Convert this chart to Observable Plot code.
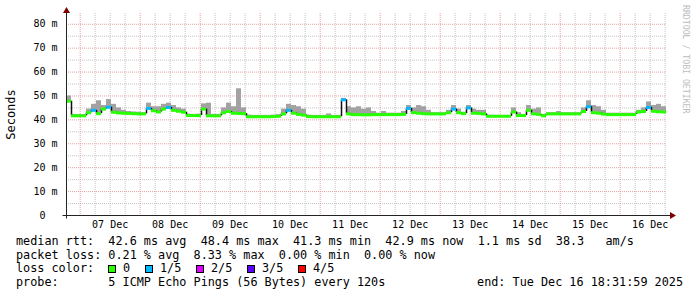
<!DOCTYPE html>
<html><head><meta charset="utf-8">
<script src="https://cdn.jsdelivr.net/npm/d3@7"></script>
<script src="https://cdn.jsdelivr.net/npm/@observablehq/plot@0.6"></script>
<style>
body{margin:0;background:#fff;}
#wrap{position:relative;width:697px;height:297px;overflow:hidden;background:#fff;}
svg{display:block;}
</style></head><body><div id="wrap"></div>
<script>
// ---- data ----
const startTime = "2025-12-06T18:32:00Z";
const endTime = "2025-12-16T18:31:59Z";
const binHours = 2;
// median rtt per 2-hour bin (ms)
const median = [
47.8,41.7,41.7,41.7,43.0,44.0,42.6,44.5,45.3,43.2,
42.9,42.8,42.7,42.6,42.5,42.5,44.8,43.8,43.3,44.5,
45.2,44.0,43.6,43.2,41.8,41.8,41.8,44.5,41.7,41.7,
41.7,43.0,43.5,42.8,42.7,42.6,41.3,41.3,41.3,41.3,
41.3,41.4,41.5,42.5,44.0,42.8,42.3,42.0,41.4,41.3,
41.3,41.3,41.3,41.3,41.3,48.4,42.5,42.2,42.2,42.1,
42.1,42.2,42.2,42.2,42.2,42.2,42.2,42.3,44.8,43.0,
42.8,42.6,42.5,42.5,42.5,42.5,43.0,44.5,43.0,42.6,
45.0,42.8,42.7,42.5,41.5,41.5,41.5,41.5,41.5,43.3,
41.8,41.8,44.0,42.5,42.3,41.7,42.5,42.5,42.5,42.5,
42.5,42.5,42.5,43.5,45.5,43.0,42.8,42.4,42.2,42.2,
42.2,42.2,42.2,42.2,43.3,43.5,45.2,43.6,43.4,43.3
];
// highest ping per bin (ms) - top of the smoke
const smokeHi = [
50.0,42.3,42.2,42.2,44.5,46.5,48.0,46.0,48.5,46.5,
45.0,44.0,43.5,43.3,43.2,43.0,47.0,45.5,45.5,46.5,
47.0,46.0,45.0,44.5,42.4,42.3,42.4,46.7,47.0,42.3,
42.3,45.0,47.0,45.5,53.0,45.0,42.0,41.9,41.9,41.9,
41.9,42.0,42.2,44.5,46.5,46.0,45.5,44.5,42.0,41.9,
41.9,41.9,42.5,41.9,41.9,49.0,45.5,45.0,45.5,44.5,
45.0,43.5,42.8,43.5,42.8,42.8,42.8,43.5,46.0,45.0,
46.0,45.5,44.0,43.0,43.0,43.0,44.0,46.0,44.5,43.2,
46.0,44.5,44.0,44.0,42.0,41.9,41.9,41.9,41.9,45.0,
43.0,42.3,46.0,44.5,45.0,42.3,43.0,43.0,43.5,43.0,
43.0,43.0,43.0,45.0,48.0,46.0,45.5,44.0,42.8,42.8,
42.8,42.8,42.8,42.8,44.0,45.0,47.5,46.0,46.5,45.5
];
// lost pings (of 5) per bin
const loss = [
0,0,0,0,0,1,0,0,1,0, 0,0,0,0,0,0,1,0,0,0,
1,0,0,0,0,0,0,0,0,0, 0,0,0,0,0,0,0,0,0,0,
0,0,0,0,1,0,0,0,0,0, 0,0,0,0,0,1,0,0,0,0,
0,0,0,0,0,0,0,0,1,0, 0,0,0,0,0,0,0,1,0,0,
1,0,0,0,0,0,0,0,0,0, 0,0,0,0,0,0,0,0,0,0,
0,0,0,0,1,0,0,0,0,0, 0,0,0,0,0,0,1,0,0,0
];
const lossLabels = ["0","1/5","2/5","3/5","4/5"];
const lossColors = ["#26ff00","#00b8ff","#dd00ff","#5e00ff","#ff0000"];
const yTicks = [0,10,20,30,40,50,60,70,80];
const yMinor = [5,15,25,35,45,55,65,75];
const dayTicks = ["2025-12-07","2025-12-08","2025-12-09","2025-12-10","2025-12-11",
                  "2025-12-12","2025-12-13","2025-12-14","2025-12-15","2025-12-16"];
const rttStats = ["42.6","48.4","41.3","42.9","1.1"];
const rttAmps = "38.3";
const lossStats = ["0.21","8.33","0.00","0.00"];
const probeText = "5 ICMP Echo Pings (56 Bytes) every 120s";
const endText = "end: Tue Dec 16 18:31:59 2025";

// ---- build ----
const t0 = new Date(startTime), t1 = new Date(endTime);
const H = 3600e3;
const rows = median.map((m, i) => ({
  start: new Date(+t0 + i * binHours * H),
  end: new Date(+t0 + (i + 1) * binHours * H),
  median: m, prev: i ? median[i - 1] : m, hi: smokeHi[i], color: lossColors[loss[i]]
}));
const midnights = dayTicks.map(d => new Date(d + "T00:00:00Z"));
const noons = dayTicks.map(d => new Date(d + "T12:00:00Z"));
const sixHours = d3.utcHour.every(6).range(t0, t1).filter(d => d.getUTCHours() !== 0);
const MONO = "DejaVu Sans Mono";

const plot = Plot.plot({
  width: 697, height: 232,
  marginLeft: 66, marginRight: 31, marginTop: 13, marginBottom: 17,
  style: {fontFamily: MONO, fontSize: "10px", color: "#000", background: "transparent", overflow: "visible"},
  x: {type: "utc", domain: [t0, t1], ticks: noons, tickFormat: d3.utcFormat("%d %b"), tickSize: 0, tickPadding: 5, label: null},
  y: {domain: [0, 84.5], ticks: yTicks, tickFormat: d => d === 0 ? "0\u00a0\u00a0" : d + " m", tickSize: 0, tickPadding: 9, label: null},
  color: {type: "identity"},
  marks: [
    Plot.ruleY(yMinor, {stroke: "#c4c4c4", strokeDasharray: "1,1"}),
    Plot.ruleX(sixHours, {stroke: "#c4c4c4", strokeDasharray: "1,1"}),
    Plot.ruleY(yTicks.filter(d => d > 0), {stroke: "#e4a0a0", strokeDasharray: "1,1"}),
    Plot.ruleX(midnights, {stroke: "#e4a0a0", strokeDasharray: "1,1"}),
    Plot.rect(rows, {x1: "start", x2: "end", y1: "median", y2: "hi", fill: "#a2a2a2"}),
    Plot.ruleX(rows.slice(1), {x: "start", y1: "prev", y2: "median", stroke: "#111", strokeWidth: 1.5}),
    Plot.ruleY(rows, {y: "median", x1: "start", x2: "end", stroke: "color", strokeWidth: 3}),
    Plot.text(["Seconds"], {frameAnchor: "left", textAnchor: "middle", rotate: -90, dx: -55, fontSize: 12, fontFamily: MONO, fill: "#000"})
  ]
});

const svg = d3.select(plot);
const xs = plot.scale("x"), ys = plot.scale("y");
const ax = xs.apply(t0) + 0.5, ay = ys.apply(0) + 0.5, axEnd = xs.apply(t1) + 2;
const deco = svg.append("g");
deco.append("line").attr("x1", ax).attr("x2", ax).attr("y1", ay + 3).attr("y2", 9).attr("stroke", "#222");
deco.append("line").attr("x1", ax - 4).attr("x2", axEnd + 2).attr("y1", ay).attr("y2", ay).attr("stroke", "#222");
deco.append("path").attr("d", `M${ax - 3.5},13L${ax + 3.5},13L${ax},7Z`).attr("fill", "#7f0000");
deco.append("path").attr("d", `M${axEnd + 2},${ay - 3.5}L${axEnd + 2},${ay + 3.5}L${axEnd + 8},${ay}Z`).attr("fill", "#7f0000");
deco.append("text").attr("transform", "translate(683,5) rotate(90)").attr("text-anchor", "start")
  .attr("font-family", MONO).attr("font-size", 8.2).attr("fill", "#bdbdbd").text("RRDTOOL / TOBI OETIKER");

document.getElementById("wrap").appendChild(plot);

// ---- legend below ----
const leg = d3.select("#wrap").append("svg").attr("width", 697).attr("height", 65)
  .style("font-family", MONO).style("font-size", "11.8px");
const line = (y, s) => leg.append("text").attr("x", 16).attr("y", y).style("white-space", "pre").attr("fill", "#000").text(s);
line(13, `median rtt:  ${rttStats[0]} ms avg  ${rttStats[1]} ms max  ${rttStats[2]} ms min  ${rttStats[3]} ms now  ${rttStats[4]} ms sd  ${rttAmps}   am/s`);
line(26.7, `packet loss: ${lossStats[0]} % avg  ${lossStats[1]} % max  ${lossStats[2]} % min  ${lossStats[3]} % now`);
line(40.4, "loss color:");
lossLabels.forEach((lab, i) => {
  const x = 108 + (i === 0 ? 0 : 37 + (i - 1) * 51);
  leg.append("rect").attr("x", x + 0.5).attr("y", 33.5).attr("width", 7).attr("height", 7)
    .attr("fill", lossColors[i]).attr("stroke", "#000");
  leg.append("text").attr("x", x + 15).attr("y", 40.4).attr("fill", "#000").text(lab);
});
line(54, `probe:       ${probeText}`);
leg.append("text").attr("x", 683).attr("y", 54).attr("text-anchor", "end").attr("fill", "#000").text(endText);
</script></body></html>
